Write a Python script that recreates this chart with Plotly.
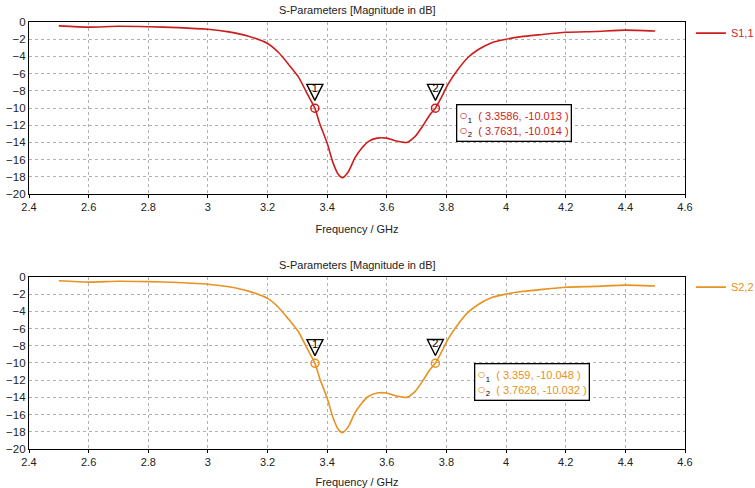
import plotly.graph_objects as go
from plotly.subplots import make_subplots

# ---- data ----
freq = [2.5, 2.6, 2.7, 2.8, 2.9, 3.0, 3.07, 3.136, 3.2, 3.237, 3.27, 3.304, 3.331, 3.3586, 3.375, 3.4,
        3.42, 3.437, 3.451, 3.471, 3.493, 3.515, 3.538, 3.567, 3.6, 3.628, 3.667, 3.695, 3.722, 3.744,
        3.7631, 3.783, 3.806, 3.839, 3.873, 3.907, 3.952, 4.0, 4.052, 4.108, 4.2, 4.3, 4.4, 4.5]
s11 = [-0.45, -0.6, -0.5, -0.55, -0.65, -0.85, -1.15, -1.65, -2.5, -3.55, -4.9, -6.4, -8.2, -10.013, -11.8, -14.1,
       -16.4, -17.7, -18.1, -17.4, -15.8, -14.7, -13.9, -13.5, -13.5, -13.8, -14.0, -13.3, -12.0, -10.8,
       -10.014, -8.75, -7.2, -5.5, -4.1, -3.2, -2.4, -2.0, -1.7, -1.5, -1.2, -1.1, -0.95, -1.05]
freq2 = [2.5, 2.6, 2.7, 2.8, 2.9, 3.0, 3.07, 3.136, 3.2, 3.237, 3.27, 3.304, 3.331, 3.359, 3.375, 3.4,
         3.42, 3.437, 3.451, 3.471, 3.493, 3.515, 3.538, 3.567, 3.6, 3.628, 3.667, 3.695, 3.722, 3.744,
         3.7628, 3.783, 3.806, 3.839, 3.873, 3.907, 3.952, 4.0, 4.052, 4.108, 4.2, 4.3, 4.4, 4.5]
s22 = [-0.45, -0.6, -0.5, -0.55, -0.65, -0.85, -1.15, -1.65, -2.5, -3.55, -4.9, -6.4, -8.2, -10.048, -11.8, -14.1,
       -16.4, -17.7, -18.1, -17.4, -15.8, -14.7, -13.9, -13.5, -13.5, -13.8, -14.0, -13.3, -12.0, -10.8,
       -10.032, -8.75, -7.2, -5.5, -4.1, -3.2, -2.4, -2.0, -1.7, -1.5, -1.2, -1.1, -0.95, -1.05]
m1_x = [3.3586, 3.7631]
m1_y = [-10.013, -10.014]
m1_lbl = ["3.3586", "3.7631"]
m1_vlbl = ["-10.013", "-10.014"]
m2_x = [3.359, 3.7628]
m2_y = [-10.048, -10.032]
m2_lbl = ["3.359", "3.7628"]
m2_vlbl = ["-10.048", "-10.032"]
marker_ids = ["1", "2"]
x_ticks = [2.4, 2.6, 2.8, 3.0, 3.2, 3.4, 3.6, 3.8, 4.0, 4.2, 4.4, 4.6]
x_tick_text = ["2.4", "2.6", "2.8", "3", "3.2", "3.4", "3.6", "3.8", "4", "4.2", "4.4", "4.6"]
y_ticks = [0, -2, -4, -6, -8, -10, -12, -14, -16, -18, -20]

RED = "rgb(204,30,30)"
ORANGE = "rgb(232,146,32)"
FONT = "Liberation Sans"

fig = make_subplots(rows=2, cols=1, vertical_spacing=0.194)

panels = [
    (1, freq, s11, m1_x, m1_y, m1_lbl, m1_vlbl, RED, "S1,1", "legend", (0.828, 0.413)),
    (2, freq2, s22, m2_x, m2_y, m2_lbl, m2_vlbl, ORANGE, "S2,2", "legend2", (0.855, 0.39)),
]

for row, fx, fy, mx, my, mlbl, mvlbl, col, name, leg, boxpos in panels:
    fig.add_trace(go.Scatter(x=fx, y=fy, mode="lines", name=name, legend=leg,
                             line=dict(color=col, width=1.6, shape="spline", smoothing=0.6)),
                  row=row, col=1)
    # triangle flags above markers (tip just above the point)
    fig.add_trace(go.Scatter(x=mx, y=[v + 0.9 for v in my], mode="markers", showlegend=False,
                             hoverinfo="skip",
                             marker=dict(symbol="arrow-down-open", size=16, color="black",
                                         line=dict(width=1.4, color="black"))), row=row, col=1)
    fig.add_trace(go.Scatter(x=mx, y=[v + 2.15 for v in my], mode="text", showlegend=False,
                             text=marker_ids, textposition="middle center", hoverinfo="skip",
                             textfont=dict(family=FONT, size=11, color="black")), row=row, col=1)
    # marker points
    fig.add_trace(go.Scatter(x=mx, y=my, mode="markers", showlegend=False,
                             marker=dict(symbol="circle-open", size=8, color=col,
                                         line=dict(width=1.5, color=col))), row=row, col=1)
    # marker readout box
    lines = []
    for i in range(len(mx)):
        lines.append(f"<span style='font-size:14px'>○</span><sub><span style='color:black'>{marker_ids[i]}</span></sub>"
                     f"  ( {mlbl[i]}, {mvlbl[i]} )")
    xref = "x domain" if row == 1 else "x2 domain"
    yref = "y domain" if row == 1 else "y2 domain"
    fig.add_annotation(x=boxpos[0], y=boxpos[1], xref=xref, yref=yref, xanchor="right", yanchor="middle",
                       text="<br>".join(lines), showarrow=False, align="left",
                       font=dict(family=FONT, size=11, color=col),
                       bgcolor="white", bordercolor="black", borderwidth=1.3, borderpad=2)
    # title
    fig.add_annotation(x=0.5, y=1.0, xref=xref, yref=yref, yshift=12, yanchor="middle",
                       text="S-Parameters [Magnitude in dB]", showarrow=False,
                       font=dict(family=FONT, size=11, color="#222"))

fig.update_xaxes(range=[2.4, 4.6], tickvals=x_ticks, ticktext=x_tick_text, automargin=False,
                 showgrid=True, gridcolor="#b0b0b0", griddash="dot", gridwidth=1,
                 showline=True, linecolor="black", linewidth=1.3, mirror=True,
                 ticks="outside", ticklen=3, tickcolor="black", zeroline=False,
                 tickfont=dict(family=FONT, size=11, color="#222"),
                 title=dict(text="Frequency / GHz", font=dict(family=FONT, size=11, color="#222"), standoff=12))
fig.update_yaxes(range=[-20, 0], tickvals=y_ticks, automargin=False,
                 showgrid=True, gridcolor="#b0b0b0", griddash="dot", gridwidth=1,
                 showline=True, linecolor="black", linewidth=1.3, mirror=True,
                 ticks="", zeroline=False,
                 tickfont=dict(family=FONT, size=11.5, color="#222"))
fig.update_yaxes(domain=[0.597, 1.0], row=1, col=1)
fig.update_yaxes(domain=[0.0, 0.403], row=2, col=1)

legend_common = dict(xanchor="left", yanchor="middle", bgcolor="rgba(0,0,0,0)",
                     itemwidth=30, tracegroupgap=0)
fig.update_layout(
    width=755, height=488,
    margin=dict(l=29, r=70, t=22, b=39, autoexpand=False),
    paper_bgcolor="white", plot_bgcolor="white",
    font=dict(family=FONT),
    legend=dict(x=1.009, y=0.974, font=dict(family=FONT, size=11, color=RED), **legend_common),
    legend2=dict(x=1.009, y=0.379, font=dict(family=FONT, size=11, color=ORANGE), **legend_common),
)

fig.write_html("out.html")
